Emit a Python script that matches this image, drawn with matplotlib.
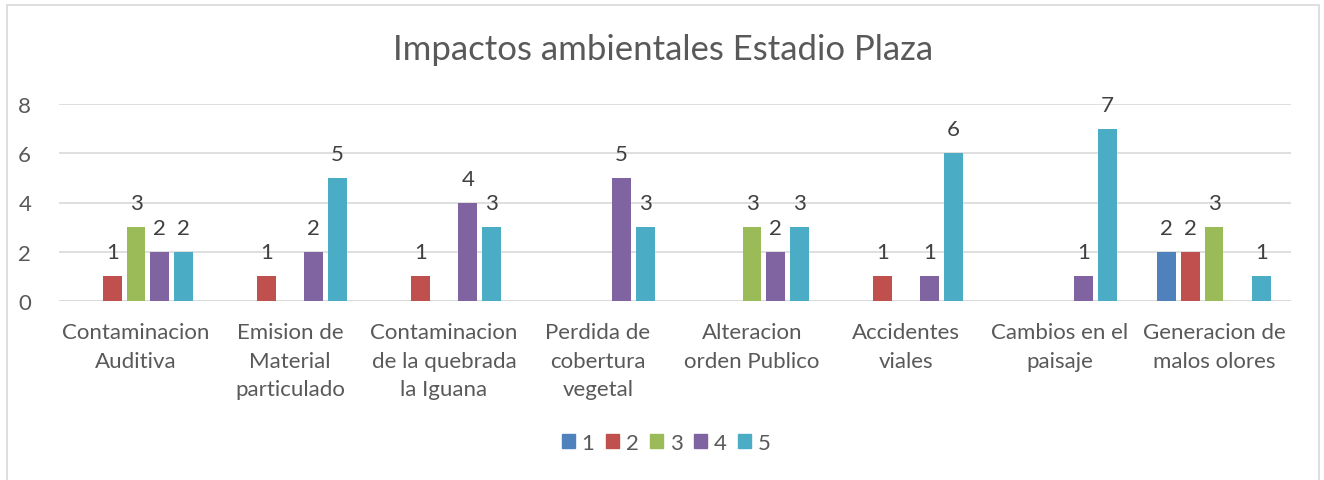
import matplotlib
matplotlib.use("Agg")
import matplotlib.pyplot as plt
import numpy as np

categories = ["Contaminacion\nAuditiva", "Emision de\nMaterial\nparticulado",
              "Contaminacion\nde la quebrada\nla Iguana", "Perdida de\ncobertura\nvegetal",
              "Alteracion\norden Publico", "Accidentes\nviales", "Cambios en el\npaisaje",
              "Generacion de\nmalos olores"]
series_names = ["1", "2", "3", "4", "5"]
s1 = [0, 0, 0, 0, 0, 0, 0, 2]
s2 = [1, 1, 1, 0, 0, 1, 0, 2]
s3 = [3, 0, 0, 0, 3, 0, 0, 3]
s4 = [2, 2, 4, 5, 2, 1, 1, 0]
s5 = [2, 5, 3, 3, 3, 6, 7, 1]
series = [s1, s2, s3, s4, s5]
colors = ["#4F81BD", "#C0504D", "#9BBB59", "#8064A2", "#4BACC6"]
title = "Impactos ambientales Estadio Plaza"
yticks = [0, 2, 4, 6, 8]

plt.rcParams['font.family'] = ['Lato', 'DejaVu Sans']
txt = "#595959"

fig = plt.figure(figsize=(13.24, 4.81), dpi=100)
# outer frame
fig.patches.append(plt.Rectangle((7/1324, -0.1), (1319-7)/1324, 1 - 6/481 + 0.1,
                                 transform=fig.transFigure, fill=False,
                                 edgecolor="#D9D9D9", linewidth=1.2))
ax = fig.add_axes([59/1324, 1 - 302/481, (1291-59)/1324, (302-105)/481])
x = np.arange(len(categories))
step = 0.154
width = 0.123
for i, (vals, c, name) in enumerate(zip(series, colors, series_names)):
    pos = x + (i - 2) * step
    v = np.array(vals, dtype=float)
    mask = v > 0
    ax.bar(pos[mask], v[mask], width=width, color=c, zorder=3, label=name)
    for p, val in zip(pos[mask], v[mask]):
        ax.annotate(f"{int(val)}", (p, val), xytext=(0, 10), textcoords="offset points",
                    ha="center", va="bottom", fontsize=16, color="#404040")
ax.set_xlim(-0.5, len(categories) - 0.5)
ax.set_ylim(0, 8)
ax.set_yticks(yticks)
ax.yaxis.grid(True, color="#D9D9D9", linewidth=1.2, zorder=0)
for s in ax.spines.values():
    s.set_visible(False)
ax.axhline(0, color="#D9D9D9", linewidth=1.2, zorder=2)
ax.tick_params(axis="both", length=0, colors=txt, labelsize=16)
ax.tick_params(axis="y", pad=20)
ax.set_xticks(x)
ax.set_xticklabels(categories, linespacing=1.55)
ax.tick_params(axis="x", pad=15)
fig.text(663/1324, 1 - 50/481, title, ha="center", va="center", fontsize=25, color=txt)
handles = [plt.Rectangle((0, 0), 1, 1, color=c) for c in colors]
fig.legend(handles, series_names, loc="center", bbox_to_anchor=(666/1324, 1 - 444/481),
           ncol=5, frameon=False, fontsize=16, labelcolor=txt, handlelength=0.6,
           handleheight=0.6, handletextpad=0.3, columnspacing=0.5)
fig.savefig("out.png", dpi=100)
